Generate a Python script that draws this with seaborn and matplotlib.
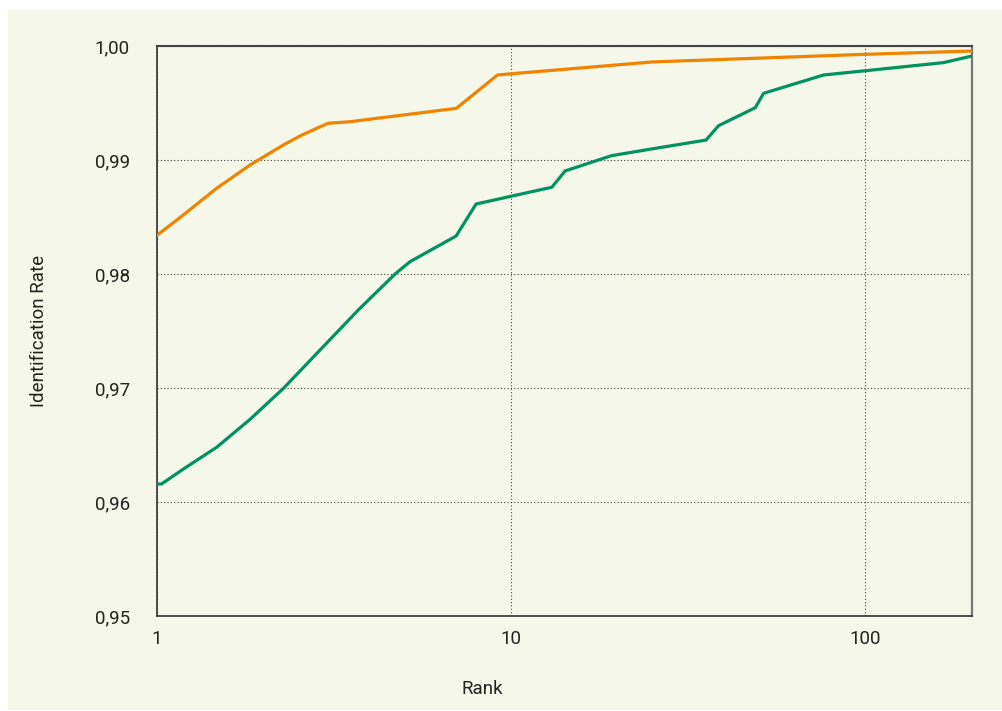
import numpy as np
import pandas as pd
import matplotlib
matplotlib.use("Agg")
import matplotlib.pyplot as plt
from matplotlib.patches import Rectangle
from matplotlib.ticker import FixedLocator, FixedFormatter, NullLocator
import seaborn as sns

# Cumulative match characteristic: identification rate by rank
rank_a = [1.0, 1.187, 1.474, 1.831, 2.275, 2.535, 2.825, 3.04, 3.51, 7.0, 9.15,
          25.0, 100.0, 200.0]
rate_a = [0.9834, 0.98518, 0.98752, 0.98956, 0.99132, 0.99211, 0.99278, 0.99322, 0.99336,
          0.99453, 0.99746, 0.99860, 0.99927, 0.99956]

rank_b = [1.0, 1.03, 1.187, 1.474, 1.831, 2.275, 3.70, 4.70, 5.18, 6.99, 7.96, 13.03, 14.2,
          19.2, 24.6, 35.5, 38.5, 48.9, 51.6, 76.3, 100.0, 166.0, 200.0]
rate_b = [0.96158, 0.96158, 0.96289, 0.96480, 0.96725, 0.96997, 0.97684, 0.9800, 0.98108,
          0.98333, 0.98614, 0.98761, 0.98904, 0.99038, 0.99094, 0.99175, 0.99301, 0.99459,
          0.99585, 0.99746, 0.99783, 0.99854, 0.99912]

series_names = ["A", "B"]
series_colors = ["#f08300", "#009260"]

y_ticks = [0.95, 0.96, 0.97, 0.98, 0.99, 1.00]
y_tick_labels = ["0,95", "0,96", "0,97", "0,98", "0,99", "1,00"]
x_ticks = [1, 10, 100]
x_tick_labels = ["1", "10", "100"]

df = pd.concat([
    pd.DataFrame({"Rank": rank_a, "Rate": rate_a, "Series": series_names[0]}),
    pd.DataFrame({"Rank": rank_b, "Rate": rate_b, "Series": series_names[1]}),
], ignore_index=True)

bg = "#f5f7e9"
sns.set_style("white")
plt.rcParams["font.family"] = ["Roboto", "DejaVu Sans"]

fig = plt.figure(figsize=(10.02, 7.11), dpi=100, facecolor="white")
# tinted panel behind everything, leaving a thin white margin top and left
fig.patches.append(Rectangle((8 / 1002, 1 - 710 / 711), 994 / 1002, 700 / 711,
                             transform=fig.transFigure, facecolor=bg, edgecolor="none",
                             zorder=-10))
ax = fig.add_axes([157 / 1002, 1 - 616 / 711, 815 / 1002, 570 / 711])
ax.set_facecolor(bg)

sns.lineplot(data=df, x="Rank", y="Rate", hue="Series", palette=series_colors,
             hue_order=series_names, linewidth=2.3, legend=False, ax=ax, sort=False,
             estimator=None, zorder=3)

ax.set_xscale("log")
ax.set_xlim(1, 200)
ax.set_ylim(0.95, 1.0)

ax.xaxis.set_major_locator(FixedLocator(x_ticks))
ax.xaxis.set_major_formatter(FixedFormatter(x_tick_labels))
ax.xaxis.set_minor_locator(NullLocator())
ax.yaxis.set_major_locator(FixedLocator(y_ticks))
ax.yaxis.set_major_formatter(FixedFormatter(y_tick_labels))

ax.tick_params(axis="both", length=0, labelsize=13.5, colors="#222222")
ax.tick_params(axis="y", pad=19.5)
ax.tick_params(axis="x", pad=10)

ax.grid(True, which="major", linestyle=(0, (1, 2)), color="#444444", linewidth=0.8, zorder=1)

for side in ["left", "bottom"]:
    ax.spines[side].set_color("#333333")
    ax.spines[side].set_linewidth(1.2)
ax.spines["top"].set_color("#444444")
ax.spines["top"].set_linewidth(1.5)
ax.spines["right"].set_color("#777777")
ax.spines["right"].set_linewidth(1.6)

ax.set_xlabel("Rank", fontsize=13.5, color="#222222")
ax.set_ylabel("Identification Rate", fontsize=13.5, color="#222222")
ax.xaxis.set_label_coords((482 - 157) / 815, -(680 - 616) / 570)
ax.yaxis.set_label_coords(-(157 - 48) / 815, 0.5)

fig.savefig("out.png", dpi=100, facecolor="white")
